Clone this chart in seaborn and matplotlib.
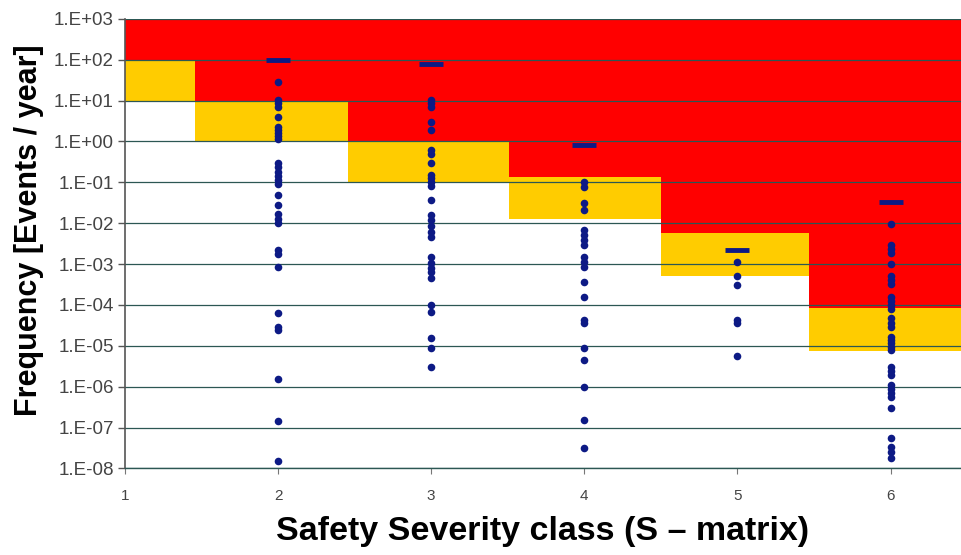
import matplotlib
matplotlib.use("Agg")
import matplotlib.pyplot as plt
import numpy as np
import pandas as pd
import seaborn as sns
from matplotlib.ticker import FixedLocator, FuncFormatter, NullLocator

# ---------------- data ----------------
severity_ticks = [1, 2, 3, 4, 5, 6]

freq_s2 = [29, 10.5, 8.8, 7.0, 4.0, 2.3, 1.9, 1.6, 1.37, 1.16,
           0.30, 0.24, 0.18, 0.144, 0.115, 0.091, 0.049, 0.028, 0.017,
           0.0127, 0.0102, 0.0022, 0.0018, 8.5e-4, 6.5e-5, 2.85e-5,
           2.5e-5, 1.55e-6, 1.48e-7, 1.55e-8]
freq_s3 = [10.5, 8.8, 7.0, 3.06, 1.9, 0.62, 0.50, 0.30, 0.152, 0.128,
           0.102, 0.082, 0.037, 0.016, 0.012, 0.0086, 0.0061, 0.0046,
           0.0015, 0.00107, 8.0e-4, 6.4e-4, 4.6e-4, 1.0e-4, 6.7e-5,
           1.56e-5, 8.9e-6, 3.04e-6]
freq_s4 = [0.104, 0.079, 0.031, 0.021, 0.0069, 0.0052, 0.0039, 0.0029,
           0.0015, 0.00115, 8.7e-4, 3.7e-4, 1.6e-4, 4.3e-5, 3.7e-5,
           8.7e-6, 4.5e-6, 1.0e-6, 1.54e-7, 3.1e-8]
freq_s5 = [1.15e-3, 5.1e-4, 3.1e-4, 4.3e-5, 3.6e-5, 5.75e-6]
freq_s6 = [0.0095, 2.9e-3, 2.3e-3, 1.85e-3, 1.0e-3, 5.1e-4, 4.1e-4,
           3.2e-4, 1.6e-4, 1.28e-4, 1.0e-4, 8.0e-5, 4.7e-5, 3.7e-5,
           2.95e-5, 1.68e-5, 1.39e-5, 1.16e-5, 9.6e-6, 7.9e-6, 3.1e-6,
           2.4e-6, 1.94e-6, 1.1e-6, 8.8e-7, 6.9e-7, 5.7e-7, 3.0e-7,
           5.5e-8, 3.4e-8, 2.57e-8, 1.8e-8]

upper_limit_class = [2, 3, 4, 5, 6]
upper_limit_freq = [100, 80, 0.83, 2.2e-3, 0.033]

# risk zones per severity class
zone_left = [1.0, 1.457, 2.46, 3.51, 4.50, 5.47]
zone_right = [1.457, 2.46, 3.51, 4.50, 5.47, 6.46]
red_floor = [100, 10, 1.0, 0.136, 5.9e-3, 8.3e-5]
amber_floor = [10, 1.0, 0.1, 0.0127, 5.2e-4, 7.6e-6]
y_top = 1e3
y_bottom = 1e-8
y_exponents = list(range(-8, 4))

# ---------------- style ----------------
sns.set_style("white")
plt.rcParams["font.family"] = ["Liberation Sans", "DejaVu Sans"]

RED = "#ff0000"
AMBER = "#ffcc00"
NAVY = "#0d1a85"
GRID = "#2c5753"

points = pd.DataFrame({
    "severity": [2] * len(freq_s2) + [3] * len(freq_s3) + [4] * len(freq_s4)
                + [5] * len(freq_s5) + [6] * len(freq_s6),
    "frequency": freq_s2 + freq_s3 + freq_s4 + freq_s5 + freq_s6,
})
limits = pd.DataFrame({"severity": upper_limit_class,
                       "frequency": upper_limit_freq})

fig, ax = plt.subplots(figsize=(9.61, 5.55), dpi=100)
fig.subplots_adjust(left=0.130, right=1.0, top=0.966, bottom=0.156)

ax.set_yscale("log")
ax.set_xlim(1, 6.46)
ax.set_ylim(y_bottom, y_top)

for l, r, rf, af in zip(zone_left, zone_right, red_floor, amber_floor):
    ax.fill_between([l, r], [rf, rf], [y_top, y_top], color=RED, lw=0, zorder=1)
    ax.fill_between([l, r], [af, af], [rf, rf], color=AMBER, lw=0, zorder=1)

for e in y_exponents:
    ax.axhline(10.0 ** e, color=GRID, lw=0.9, zorder=2)

sns.scatterplot(data=points, x="severity", y="frequency", ax=ax,
                color=NAVY, s=30, linewidth=0, zorder=4, legend=False)
sns.scatterplot(data=limits, x="severity", y="frequency", ax=ax,
                color=NAVY, marker="_", s=290, linewidth=3.5, zorder=4,
                legend=False)

ax.yaxis.set_major_locator(FixedLocator([10.0 ** e for e in y_exponents]))
ax.yaxis.set_minor_locator(NullLocator())
ax.yaxis.set_major_formatter(
    FuncFormatter(lambda v, p: "1.E{:+03d}".format(int(round(np.log10(v))))))
ax.xaxis.set_major_locator(FixedLocator(severity_ticks))
ax.xaxis.set_major_formatter(FuncFormatter(lambda v, p: "%d" % v))

ax.tick_params(axis="y", direction="out", length=5, width=1, color="#555555",
               labelsize=13.5, labelcolor="#444444", pad=3, left=True)
ax.tick_params(axis="x", direction="out", length=4, width=0.8, color="#777777",
               labelsize=11, labelcolor="#444444", pad=11, bottom=True)

for side in ["top", "right"]:
    ax.spines[side].set_visible(False)
ax.spines["left"].set_color("#555555")
ax.spines["left"].set_linewidth(1.2)
ax.spines["bottom"].set_color(GRID)
ax.spines["bottom"].set_linewidth(1.0)

ax.set_xlabel("Safety Severity class (S \u2013 matrix)", fontsize=24.5,
              fontweight="bold", color="black")
ax.xaxis.set_label_coords(0.5, -0.105)
ax.set_ylabel("Frequency [Events / year]", fontsize=22, fontweight="bold",
              color="black")
ax.yaxis.set_label_coords(-0.097, 0.53)

fig.savefig("out.png", dpi=100)
